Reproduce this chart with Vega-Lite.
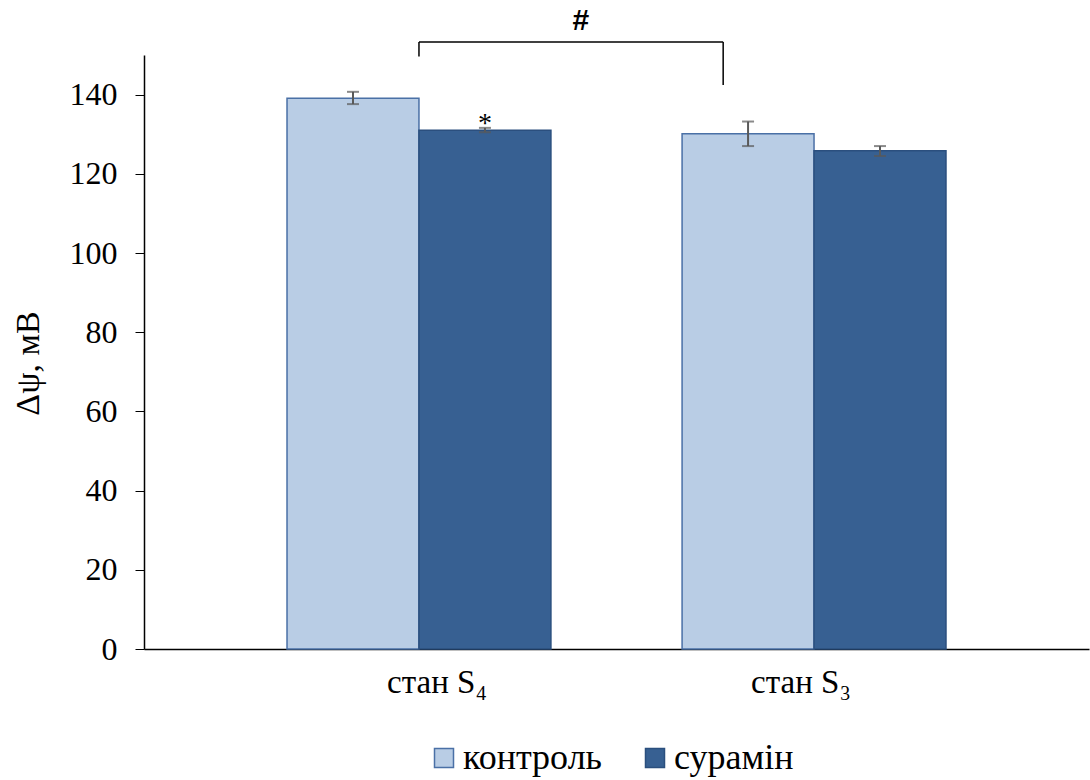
{
  "$schema": "https://vega.github.io/schema/vega-lite/v6.json",
  "width": 945,
  "height": 594,
  "autosize": {"type": "none"},
  "padding": {"left": 144, "top": 55, "right": 1, "bottom": 131},
  "background": "white",
  "config": {
    "font": "'Liberation Serif', 'Times New Roman', serif",
    "view": {"stroke": null},
    "axis": {"grid": false, "domainColor": "black", "tickColor": "black", "labelColor": "black", "titleColor": "black", "labelFont": "'Liberation Serif', 'Times New Roman', serif", "titleFont": "'Liberation Serif', 'Times New Roman', serif"},
    "legend": {"labelFont": "'Liberation Serif', 'Times New Roman', serif"},
    "text": {"font": "'Liberation Serif', 'Times New Roman', serif"}
  },
  "datasets": {
    "bars": [
      {"state": "стан S₄", "group": "контроль", "value": 139.1, "lo": 137.6, "hi": 140.7, "sig": ""},
      {"state": "стан S₄", "group": "сурамін", "value": 131.0, "lo": 130.5, "hi": 131.6, "sig": "*"},
      {"state": "стан S₃", "group": "контроль", "value": 130.1, "lo": 127.0, "hi": 133.2, "sig": ""},
      {"state": "стан S₃", "group": "сурамін", "value": 125.8, "lo": 124.5, "hi": 127.0, "sig": ""}
    ],
    "bracket": [
      {"x": 1.0, "x2": 1.77, "y": 153.3, "y2": 153.3},
      {"x": 1.0, "x2": 1.0, "y": 149.6, "y2": 153.3},
      {"x": 1.77, "x2": 1.77, "y": 142.4, "y2": 153.3}
    ],
    "bracketLabel": [
      {"x": 1.41, "y": 158.6, "label": "#"}
    ]
  },
  "layer": [
    {
      "data": {"name": "bars"},
      "encoding": {
        "x": {
          "field": "state", "type": "nominal", "sort": null,
          "scale": {"paddingInner": 0.332, "paddingOuter": 0.362},
          "axis": {
            "title": null, "ticks": false, "labelAngle": 0, "labelFontSize": 33, "labelPadding": 17, "domainWidth": 1.5,
            "labelOffset": {"condition": {"test": "datum.value === 'стан S₄'", "value": 18}, "value": -13}
          }
        },
        "xOffset": {"field": "group", "type": "nominal", "sort": null, "scale": {"paddingInner": 0, "paddingOuter": 0}}
      },
      "layer": [
        {
          "mark": {"type": "bar", "strokeWidth": 1.5},
          "encoding": {
            "y": {
              "field": "value", "type": "quantitative",
              "scale": {"domain": [0, 150], "nice": false},
              "title": "Δψ, мВ",
              "axis": {"values": [0, 20, 40, 60, 80, 100, 120, 140], "tickSize": 9, "labelFontSize": 32, "labelPadding": 18, "titleFontSize": 34, "titleFontWeight": "normal", "titlePadding": 24, "titleY": 308, "domainWidth": 1.5}
            },
            "color": {
              "field": "group", "type": "nominal",
              "scale": {"domain": ["контроль", "сурамін"], "range": ["#B9CDE5", "#376092"]},
              "legend": {
                "title": null, "orient": "none", "direction": "horizontal", "legendX": 282, "legendY": 685,
                "symbolType": "square", "symbolSize": 361, "symbolStrokeColor": "#4A70A6", "symbolStrokeWidth": 1.5,
                "labelFontSize": 36, "labelColor": "black", "labelOffset": 1, "columnPadding": 34
              }
            },
            "stroke": {
              "field": "group", "type": "nominal",
              "scale": {"domain": ["контроль", "сурамін"], "range": ["#4A70A6", "#2B4F7E"]},
              "legend": null
            }
          }
        },
        {
          "mark": {"type": "rule", "color": "#595959", "strokeWidth": 2},
          "encoding": {
            "y": {"field": "lo", "type": "quantitative", "scale": {"domain": [0, 150], "nice": false}, "title": "Δψ, мВ"},
            "y2": {"field": "hi"}
          }
        },
        {
          "mark": {"type": "tick", "color": "#595959", "thickness": 2, "size": 12, "orient": "horizontal"},
          "encoding": {"y": {"field": "lo", "type": "quantitative", "title": "Δψ, мВ"}}
        },
        {
          "mark": {"type": "tick", "color": "#595959", "thickness": 2, "size": 12, "orient": "horizontal"},
          "encoding": {"y": {"field": "hi", "type": "quantitative", "title": "Δψ, мВ"}}
        },
        {
          "mark": {"type": "text", "fontSize": 28, "baseline": "alphabetic", "dy": 4, "color": "black"},
          "encoding": {
            "y": {"field": "hi", "type": "quantitative", "title": "Δψ, мВ"},
            "text": {"field": "sig"}
          }
        }
      ]
    },
    {
      "layer": [
        {
          "data": {"name": "bracket"},
          "mark": {"type": "rule", "color": "black", "strokeWidth": 1.5},
          "encoding": {
            "x": {"field": "x", "type": "quantitative", "scale": {"domain": [0.304, 2.696], "nice": false, "zero": false}, "axis": null},
            "x2": {"field": "x2"},
            "y": {"field": "y", "type": "quantitative", "scale": {"domain": [0, 150], "nice": false}, "title": "Δψ, мВ"},
            "y2": {"field": "y2"}
          }
        },
        {
          "data": {"name": "bracketLabel"},
          "mark": {"type": "text", "fontSize": 30, "fontWeight": "bold", "font": "'Liberation Sans', Arial, sans-serif", "color": "black", "baseline": "middle"},
          "encoding": {
            "x": {"field": "x", "type": "quantitative", "scale": {"domain": [0.304, 2.696], "nice": false, "zero": false}, "axis": null},
            "y": {"field": "y", "type": "quantitative", "scale": {"domain": [0, 150], "nice": false}, "title": "Δψ, мВ"},
            "text": {"field": "label"}
          }
        }
      ]
    }
  ],
  "resolve": {"scale": {"x": "independent", "xOffset": "independent"}}
}
